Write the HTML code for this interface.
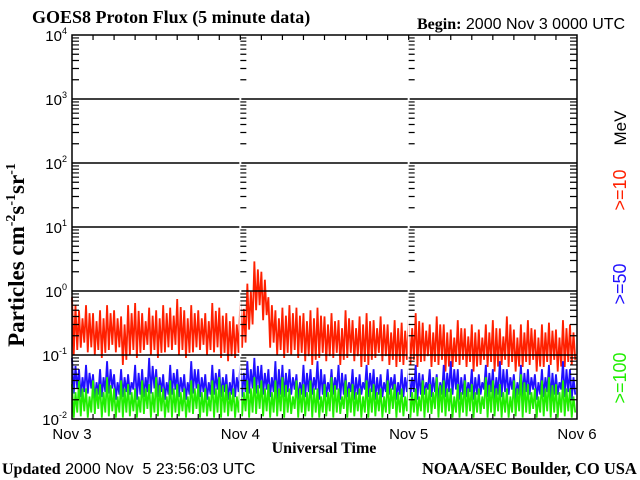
<!DOCTYPE html>
<html><head><meta charset="utf-8"><style>
body{margin:0;background:#fff;width:640px;height:480px;overflow:hidden}
svg{display:block}
.s{font-family:"Liberation Sans",sans-serif}
.r{font-family:"Liberation Serif",serif}
</style></head><body>
<svg id="c" width="640" height="480">
<text x="32" y="23" class="r" font-size="18" font-weight="bold">GOES8 Proton Flux (5 minute data)</text>
<text x="417" y="29" class="s" font-size="16"><tspan class="r" font-weight="bold">Begin:</tspan> 2000 Nov 3 0000 UTC</text>
<text x="2" y="474" class="s" font-size="16" xml:space="preserve" style="white-space:pre"><tspan class="r" font-weight="bold">Updated</tspan> 2000 Nov  5 23:56:03 UTC</text>
<text x="422" y="474" class="r" font-size="16.5" font-weight="bold">NOAA/SEC Boulder, CO USA</text>
<text x="324" y="453" text-anchor="middle" class="r" font-size="16" font-weight="bold">Universal Time</text>
<text transform="translate(24,255) rotate(-90)" text-anchor="middle" class="r" font-size="23" font-weight="bold">Particles cm<tspan dy="-9" font-size="14">-2</tspan><tspan dy="9">s</tspan><tspan dy="-9" font-size="14">-1</tspan><tspan dy="9">sr</tspan><tspan dy="-9" font-size="14">-1</tspan></text>
<text transform="translate(626,128) rotate(-90)" text-anchor="middle" class="s" font-size="17">MeV</text>
<text transform="translate(626,190) rotate(-90)" text-anchor="middle" class="s" font-size="18" fill="#ff2000">&gt;=10</text>
<text transform="translate(626,284) rotate(-90)" text-anchor="middle" class="s" font-size="18" fill="#2010ff">&gt;=50</text>
<text transform="translate(626,378) rotate(-90)" text-anchor="middle" class="s" font-size="18" fill="#20ee00">&gt;=100</text>
</svg>
<script>
const dayLabels=["Nov 3","Nov 4","Nov 5","Nov 6"];
const decades=[-2,-1,0,1,2,3,4];
const redHi=[0.8,0.5,0.6,0.45,0.5,0.6,0.5,0.4,0.6,0.65,0.45,0.55,0.5,0.6,0.55,0.75,0.5,0.6,0.5,0.45,0.65,0.55,0.45,0.4,
0.7,1.3,2.9,2.0,0.8,0.5,0.55,0.6,0.55,0.45,0.5,0.55,0.4,0.45,0.35,0.5,0.35,0.4,0.45,0.35,0.4,0.3,0.35,0.32,
0.35,0.45,0.32,0.3,0.4,0.3,0.25,0.35,0.26,0.3,0.25,0.3,0.35,0.26,0.4,0.25,0.3,0.35,0.25,0.3,0.32,0.25,0.35,0.3];
const redLo=[0.1,0.13,0.11,0.1,0.09,0.12,0.11,0.07,0.1,0.09,0.12,0.1,0.09,0.11,0.12,0.1,0.09,0.11,0.12,0.1,0.11,0.09,0.08,0.09,
0.13,0.25,0.5,0.35,0.13,0.1,0.09,0.1,0.09,0.08,0.07,0.09,0.08,0.09,0.07,0.09,0.08,0.065,0.07,0.09,0.08,0.07,0.065,0.07,
0.07,0.065,0.08,0.065,0.07,0.055,0.065,0.07,0.065,0.055,0.07,0.065,0.055,0.07,0.065,0.055,0.065,0.07,0.055,0.065,0.07,0.055,0.065,0.07];
const blueHi=[0.09,0.06,0.07,0.05,0.06,0.08,0.05,0.06,0.05,0.07,0.06,0.09,0.06,0.05,0.07,0.06,0.05,0.08,0.06,0.05,0.07,0.06,0.05,0.06,
0.07,0.08,0.09,0.07,0.06,0.08,0.07,0.06,0.05,0.07,0.06,0.08,0.05,0.06,0.07,0.05,0.06,0.05,0.07,0.06,0.05,0.06,0.05,0.06,
0.06,0.07,0.05,0.06,0.05,0.07,0.08,0.06,0.05,0.06,0.05,0.07,0.06,0.08,0.06,0.05,0.07,0.06,0.05,0.06,0.07,0.05,0.08,0.06];
const blueLo=[0.025,0.022,0.025,0.02,0.022,0.025,0.02,0.022,0.024,0.02,0.022,0.025,0.022,0.02,0.024,0.022,0.02,0.025,0.022,0.02,0.024,0.022,0.02,0.022,
0.022,0.025,0.025,0.024,0.022,0.02,0.022,0.024,0.02,0.022,0.024,0.02,0.022,0.024,0.02,0.022,0.02,0.024,0.022,0.02,0.022,0.024,0.02,0.022,
0.022,0.02,0.024,0.022,0.02,0.022,0.024,0.02,0.022,0.02,0.024,0.022,0.02,0.022,0.024,0.02,0.022,0.024,0.02,0.022,0.02,0.024,0.022,0.02];
const greenHi=[0.035,0.04,0.03,0.04,0.035,0.045,0.03,0.04,0.035,0.03,0.04,0.035,0.045,0.03,0.04,0.035,0.03,0.04,0.035,0.03,0.04,0.045,0.035,0.03,
0.035,0.04,0.045,0.04,0.035,0.04,0.045,0.03,0.04,0.035,0.04,0.03,0.035,0.045,0.03,0.04,0.035,0.03,0.04,0.035,0.03,0.04,0.035,0.03,
0.035,0.03,0.04,0.035,0.045,0.04,0.03,0.035,0.04,0.035,0.03,0.045,0.04,0.035,0.03,0.04,0.05,0.035,0.03,0.04,0.045,0.035,0.04,0.03];
const greenLo=[0.0105,0.011,0.0105,0.012,0.0105,0.011,0.0105,0.0105,0.011,0.0105,0.012,0.0105,0.011,0.0105,0.0105,0.011,0.0105,0.012,0.0105,0.011,0.0105,0.0105,0.011,0.0105,
0.011,0.0105,0.012,0.011,0.0105,0.011,0.0105,0.012,0.0105,0.011,0.0105,0.0105,0.011,0.0105,0.012,0.0105,0.011,0.0105,0.0105,0.011,0.0105,0.012,0.0105,0.011,
0.0105,0.011,0.0105,0.012,0.0105,0.011,0.0105,0.0105,0.011,0.0105,0.012,0.0105,0.011,0.0105,0.0105,0.011,0.0105,0.012,0.0105,0.011,0.0105,0.0105,0.011,0.0105];

const L=72,R=577,T=35,B=419,NS="http://www.w3.org/2000/svg",svg=document.getElementById('c');
const xS=h=>L+(R-L)*h/72;
const yS=v=>B-(Math.log10(v)+2)*(B-T)/6;
function mk(t,a){const e=document.createElementNS(NS,t);for(const k in a)e.setAttribute(k,a[k]);svg.appendChild(e);return e;}

function series(hi,lo,col,name){
  let pts=[];
  for(let i=0;i<hi.length;i++){const x=xS(i);
    pts.push(x+','+yS(hi[i]));pts.push((x+1.75)+','+yS(lo[i]));
    pts.push((x+3.5)+','+yS(hi[i]*0.75));pts.push((x+5.25)+','+yS(lo[i]*1.2));}
  const p=mk('polyline',{points:pts.join(' '),fill:'none',stroke:col,'stroke-width':1.8,'stroke-linejoin':'bevel'});
  
  
}
series(redHi,redLo,'#ff2000','series-ge10');
series(blueHi,blueLo,'#2010ff','series-ge50');
series(greenHi,greenLo,'#20ee00','series-ge100');

decades.forEach(d=>{
  const y=yS(Math.pow(10,d));
  if(d>-2&&d<4){const g=mk('line',{x1:L,x2:R,y1:y,y2:y,stroke:'#000','stroke-width':1.5});
  
  }
  const t=mk('text',{x:L-5,y:y+6,'text-anchor':'end','font-size':15,'font-family':'Liberation Sans, sans-serif'});
  
  
  t.innerHTML='10<tspan dy="-7" font-size="9">'+d+'</tspan>';
});
[1,2].forEach(d=>{const e=mk('line',{x1:xS(d*24),x2:xS(d*24),y1:T,y2:B,stroke:'#fff','stroke-width':2});

});
let tk='';
for(let d=-2;d<4;d++)for(let m=2;m<10;m++){const y=yS(m*Math.pow(10,d));
  tk+=`M${L},${y}h7M${R},${y}h-7M${xS(24)},${y}h6M${xS(48)},${y}h6`;}
for(let h=3;h<72;h+=3){const x=xS(h);tk+=`M${x},${B}v-5M${x},${T}v5`;}
const tp=mk('path',{d:tk,stroke:'#000','stroke-width':1.2,fill:'none'});


const fr=mk('rect',{x:L,y:T,width:R-L,height:B-T,fill:'none',stroke:'#000','stroke-width':1.5});


dayLabels.forEach((s,i)=>{const t=mk('text',{x:xS(i*24),y:439,'text-anchor':'middle','font-size':15,'font-family':'Liberation Sans, sans-serif'});


t.textContent=s;});
</script>
</body></html>
